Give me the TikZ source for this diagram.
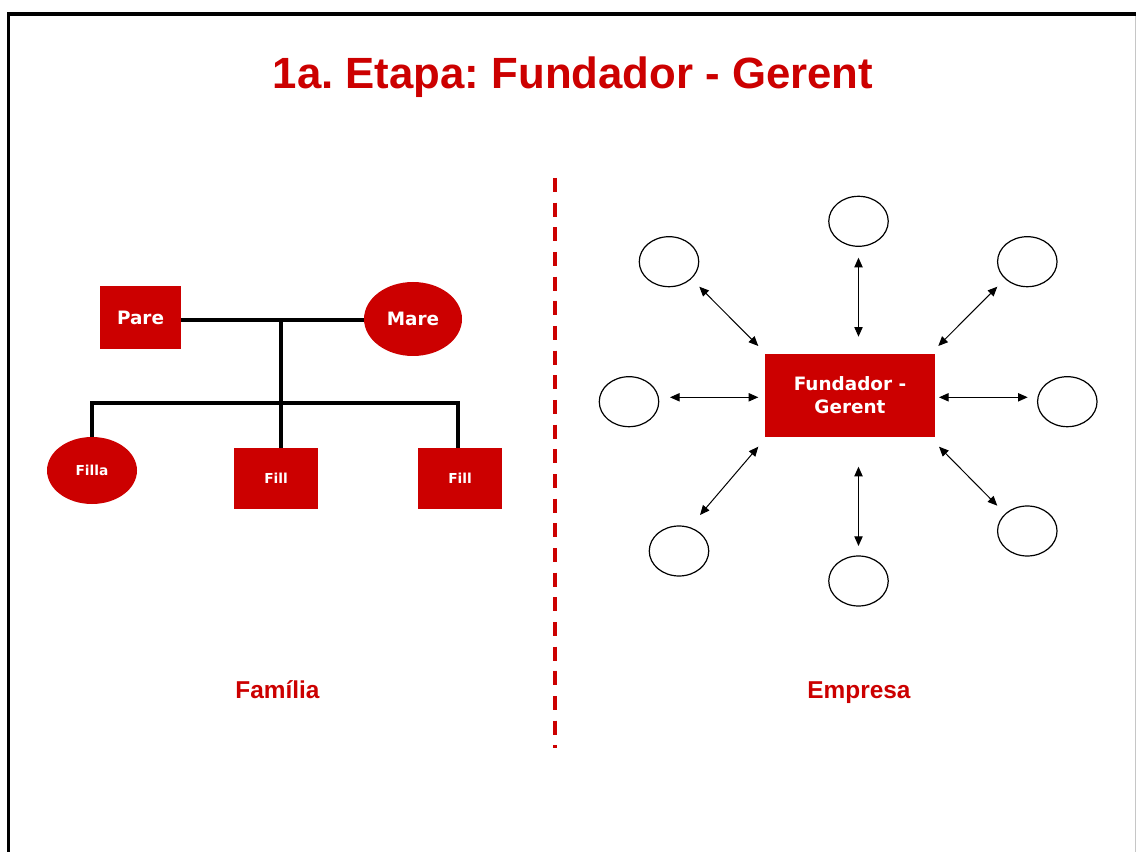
\documentclass[tikz,border=0pt]{standalone}
\usepackage{fontspec}
\setmainfont{Liberation Sans}
\newfontfamily\verd{DejaVu Sans}
\usetikzlibrary{arrows.meta,shapes.geometric}
\definecolor{dred}{RGB}{204,0,0}
\frenchspacing
\begin{document}
\begin{tikzpicture}[x=0.75pt,y=-0.75pt,
  redbox/.style={rectangle, fill=dred, draw=none, text=white, inner sep=0pt,
    font=\verd\bfseries\fontsize{13.8}{17.6}\selectfont},
  redell/.style={ellipse, fill=dred, draw=none, text=white, inner sep=0pt,
    font=\verd\bfseries\fontsize{13.8}{17.6}\selectfont},
  smallfont/.style={font=\verd\bfseries\fontsize{10.3}{12}\selectfont},
  emptyell/.style={ellipse, draw=black, line width=0.9pt, fill=white, inner sep=0pt,
    minimum width=44.6pt, minimum height=37.5pt},
  tree/.style={line width=3pt, line join=miter, black},
  conn/.style={line width=0.75pt, {Triangle[length=7.2pt,width=6.2pt]}-{Triangle[length=7.2pt,width=6.2pt]}},
  lbl/.style={anchor=base, text=dred, font=\bfseries\fontsize{18.3}{22}\selectfont}
]
\useasboundingbox (0,0) rectangle (1136,852);
\fill[white] (0,0) rectangle (1136,852);

% frame
\coordinate (f1) at (8.3,852);
\coordinate (f2) at (8.3,14);
\coordinate (f3) at (1136,14);
\coordinate (f4) at (1135.3,14);
\coordinate (f5) at (1135.3,852);
\draw[gray!45, line width=0.75pt] (f4) -- (f5);
\draw[line width=2.5pt] (f1) -- (f2) -- (f3);

% title
\node[anchor=base, text=dred, font=\bfseries\fontsize{32.8}{36}\selectfont] (title) at (573,88.3) {1a. Etapa: Fundador - Gerent};

% dashed divider
\coordinate (d1) at (555,178);
\coordinate (d2) at (555,748);
\draw[dred, line width=2.4pt, dash pattern=on 10.5pt off 8pt] (d1) -- (d2);

% family tree
\node[redbox, minimum width=60.75pt, minimum height=47.25pt] (pare) at (140.5,317.5) {Pare};
\node[redell, minimum width=73.5pt, minimum height=55.5pt] (mare) at (413,319) {Mare};
\node[redell, smallfont, minimum width=67.5pt, minimum height=50.25pt] (filla) at (92,470.5) {Filla};
\node[redbox, smallfont, minimum width=63pt, minimum height=45.75pt] (fill1) at (276,478.5) {Fill};
\node[redbox, smallfont, minimum width=63pt, minimum height=45.75pt] (fill2) at (460,478.5) {Fill};

\coordinate (j1) at (281,320);
\coordinate (j2) at (281,403);
\coordinate (bl) at (92,403);
\coordinate (br) at (458,403);
\draw[tree] (pare.east |- j1) -- (mare.west |- j1);
\draw[tree] (j1) -- (j1 |- fill1.north);
\draw[tree] (filla.north) -- (bl) -- (br) -- (br |- fill2.north);

% company
\node[redbox, minimum width=127.5pt, minimum height=62.25pt, align=center] (fg) at (850,395.3) {Fundador -\\Gerent};

\node[emptyell] (e1) at (858.5,221.3) {};
\node[emptyell] (e2) at (669,261.7) {};
\node[emptyell] (e3) at (1027.3,261.7) {};
\node[emptyell] (e4) at (629,401.7) {};
\node[emptyell] (e5) at (1067.3,401.7) {};
\node[emptyell] (e6) at (679,551) {};
\node[emptyell] (e7) at (858.5,581) {};
\node[emptyell] (e8) at (1027.3,531) {};

\coordinate (a1s) at (858.5,257.7); \coordinate (a1e) at (858.5,336.7);
\coordinate (a2s) at (699.3,286.7); \coordinate (a2e) at (758.3,346);
\coordinate (a3s) at (997.3,286.7); \coordinate (a3e) at (938.3,346);
\coordinate (a4s) at (670,397.3);   \coordinate (a4e) at (758.3,397.3);
\coordinate (a5s) at (1027.7,397.3);\coordinate (a5e) at (939,397.3);
\coordinate (a6s) at (700,515);     \coordinate (a6e) at (758.3,446.7);
\coordinate (a7s) at (858.5,546);   \coordinate (a7e) at (858.5,466.7);
\coordinate (a8s) at (997.3,505.7); \coordinate (a8e) at (939,446.7);
\foreach \i in {1,...,8} { \draw[conn] (a\i s) -- (a\i e); }

% labels
\node[lbl] (fam) at (277.5,698.3) {Família};
\node[lbl] (emp) at (859,698.3) {Empresa};
\end{tikzpicture}
\end{document}
